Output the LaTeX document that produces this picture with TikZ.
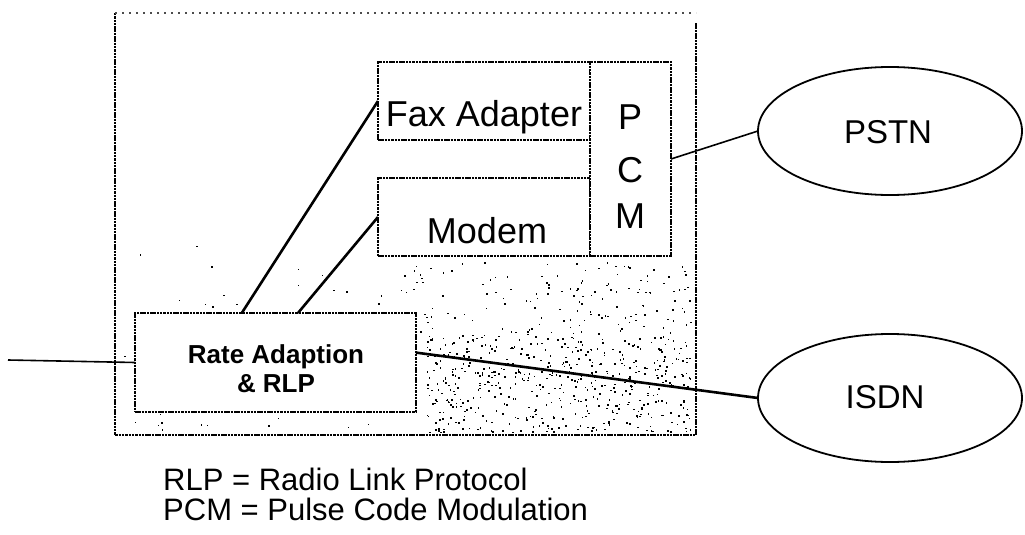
\documentclass[tikz,border=0pt]{standalone}
\usepackage{fontspec}
\setmainfont{Liberation Sans}
\usetikzlibrary{shapes.geometric,calc}
\begin{document}
\begin{tikzpicture}[x=1pt,y=-1pt,
  frame/.style={draw, dash pattern=on 2.5pt off 0.8pt, line width=1.3pt},
  faint/.style={draw, black!70, dash pattern=on 2pt off 5pt, line width=1.1pt},
  box/.style={draw, fill=white, dash pattern=on 2.5pt off 0.8pt, line width=1.3pt,
              inner sep=0pt, outer sep=0pt},
  net/.style={ellipse, draw, line width=1.8pt, inner sep=0pt, outer sep=0pt,
              minimum width=264pt, minimum height=128pt},
  link/.style={line width=2.6pt},
  thinlink/.style={line width=1.6pt},
  big/.style={font=\fontsize{36}{36}\selectfont, inner sep=0pt, anchor=base},
  mid/.style={font=\fontsize{33}{33}\selectfont, inner sep=0pt, anchor=base},
  ratetxt/.style={font=\bfseries\fontsize{26}{26}\selectfont, inner sep=0pt, anchor=base},
  legend/.style={font=\fontsize{31}{31}\selectfont, inner sep=0pt, anchor=base west}]
\useasboundingbox (0,0) rectangle (1025,535);

% speckled shading in the lower part of the unit
\pgfmathsetseed{42}
\foreach \i in {1,...,520}{
  \pgfmathsetmacro\px{425+265*rnd}
  \pgfmathsetmacro\py{335+97*rnd}
  \fill (\px,\py) rectangle ++(1.6,1.6);
}
\foreach \i in {1,...,150}{
  \pgfmathsetmacro\px{400+290*rnd}
  \pgfmathsetmacro\py{262+73*rnd}
  \fill (\px,\py) rectangle ++(1.5,1.5);
}
\foreach \i in {1,...,45}{
  \pgfmathsetmacro\px{122+280*rnd}
  \pgfmathsetmacro\py{245+185*rnd}
  \fill (\px,\py) rectangle ++(1.5,1.5);
}

% outer unit
\draw[frame] (115,13) -- (115,435) -- (696,435) -- (696,23);
\draw[faint] (115,13) -- (696,13);

% inner blocks
\node[box, minimum width=212pt, minimum height=78pt] (fax) at (484,101) {};
\node[box, minimum width=212pt, minimum height=78pt] (modem) at (484,217) {};
\node[box, minimum width=81pt, minimum height=194pt] (pcm) at (630.5,159) {};
\node[box, minimum width=281pt, minimum height=99pt] (rate) at (275.5,362.5) {};

% networks
\node[net] (pstn) at (890,131) {};
\node[net] (isdn) at (890,398) {};

% labels
\node[big] (faxlbl) at (484,126) {Fax Adapter};
\node[big] (modemlbl) at (487,243) {Modem};
\node[big] (pcmP) at (630,129) {P};
\node[big] (pcmC) at (630,182) {C};
\node[big] (pcmM) at (630,228) {M};
\node[ratetxt] (ratel1) at (276,363) {Rate Adaption};
\node[ratetxt] (ratel2) at (276,392) {\& RLP};
\node[mid] (pstnlbl) at (888,143) {PSTN};
\node[mid] (isdnlbl) at (885,408) {ISDN};

% connections
\coordinate (mobile) at (8,360);
\draw[thinlink] (mobile) -- (rate.west);
\draw[link] ($(rate.north west)!0.38!(rate.north east)$) -- (fax.west);
\draw[link] ($(rate.north west)!0.58!(rate.north east)$) -- (modem.west);
\draw[link] ($(rate.north east)!0.4!(rate.south east)$) -- (isdn.west);
\draw[thinlink] (pcm.east) -- (pstn.west);

% abbreviations
\node[legend] (leg1) at (163,490) {RLP = Radio Link Protocol};
\node[legend] (leg2) at (163,520) {PCM = Pulse Code Modulation};
\end{tikzpicture}
\end{document}
